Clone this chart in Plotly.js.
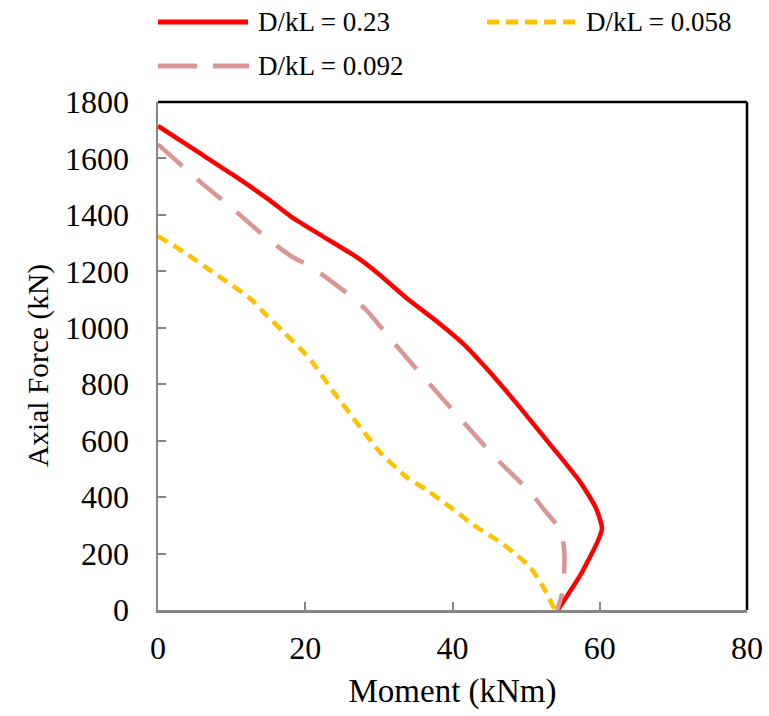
<!DOCTYPE html>
<html>
<head>
<meta charset="utf-8">
<script src="https://cdn.plot.ly/plotly-3.0.1.min.js"></script>
<style>html,body{margin:0;padding:0;background:#fff;}#chart{width:769px;height:716px;}</style>
</head>
<body>
<div id="chart"></div>
<script>
// Series: D/kL = 0.23
const momentA = [0, 5, 10, 15, 18, 22, 27, 30, 34, 38, 41.4, 45, 48.7, 53, 57.3, 59.5, 60.3, 59.8, 57.5, 54.3];
const forceA  = [1715, 1630, 1545, 1455, 1395, 1330, 1250, 1190, 1100, 1020, 945, 845, 732, 595, 455, 360, 290, 248, 130, 0];
// Series: D/kL = 0.092
const momentB = [0, 5.7, 9.3, 14.7, 18, 20.9, 23, 26.5, 28.5, 31.5, 36.2, 40.9, 45.7, 50.8, 52.3, 54.2, 54.9, 55.2, 55.1, 54.8, 54.2];
const forceB  = [1650, 1518, 1441, 1319, 1255, 1214, 1175, 1105, 1057, 963, 821, 683, 543, 411, 360, 300, 260, 200, 100, 50, 0];
// Series: D/kL = 0.058
const momentC = [0, 3.4, 8, 12.5, 14.7, 17, 19.5, 20.9, 23.8, 26.9, 30.1, 33.7, 36.5, 39.6, 43.2, 46.4, 48.4, 50.5, 52.3, 53.9];
const forceC  = [1325, 1270, 1187, 1104, 1045, 986, 921, 880, 774, 667, 561, 472, 425, 366, 295, 242, 201, 153, 83, 0];
const seriesNames = ["D/kL = 0.23", "D/kL = 0.058", "D/kL = 0.092"];
const xTicks = [0, 20, 40, 60, 80];
const yTicks = [0, 200, 400, 600, 800, 1000, 1200, 1400, 1600, 1800];
const xTitle = "Moment (kNm)";
const yTitle = "Axial Force (kN)";

const colA = "#FF0000", colB = "#D99694", colC = "#FFC000";
const FONT = "'Liberation Serif', 'Times New Roman', serif";

const traces = [
  {x: momentA, y: forceA, mode: "lines", name: seriesNames[0],
   line: {color: colA, width: 4.5, shape: "spline", smoothing: 0.6}},
  {x: momentC, y: forceC, mode: "lines", name: seriesNames[1],
   line: {color: colC, width: 4.5, dash: "11px,7px", shape: "spline", smoothing: 0.6}},
  {x: momentB, y: forceB, mode: "lines", name: seriesNames[2],
   line: {color: colB, width: 4.5, dash: "32px,20px", shape: "spline", smoothing: 0.6}}
];

const L = 158, T = 102, W = 589, H = 508;
function px(x){ return (x - L) / W; }
function py(y){ return (T + H - y) / H; }

const shapes = [
  {type: "line", xref: "paper", yref: "paper", x0: 0, x1: 1, y0: 1, y1: 1, line: {color: "#000", width: 2.5}},
  {type: "line", xref: "paper", yref: "paper", x0: 1, x1: 1, y0: 0, y1: 1, line: {color: "#000", width: 2.5}},
  {type: "line", xref: "paper", yref: "paper", x0: px(158), x1: px(248), y0: py(22), y1: py(22), line: {color: colA, width: 5}},
  {type: "line", xref: "paper", yref: "paper", x0: px(487), x1: px(577), y0: py(22), y1: py(22), line: {color: colC, width: 5, dash: "12px,7px"}},
  {type: "line", xref: "paper", yref: "paper", x0: px(158), x1: px(249), y0: py(66), y1: py(66), line: {color: colB, width: 5, dash: "39px,16px"}}
];

const annotations = [
  {text: seriesNames[0], xref: "paper", yref: "paper", x: px(256), y: py(22), xanchor: "left", yanchor: "middle", showarrow: false, font: {family: FONT, size: 27, color: "#000"}},
  {text: seriesNames[1], xref: "paper", yref: "paper", x: px(584), y: py(22), xanchor: "left", yanchor: "middle", showarrow: false, font: {family: FONT, size: 27, color: "#000"}},
  {text: seriesNames[2], xref: "paper", yref: "paper", x: px(256), y: py(66), xanchor: "left", yanchor: "middle", showarrow: false, font: {family: FONT, size: 27, color: "#000"}},
  {text: yTitle, xref: "paper", yref: "paper", x: px(38), y: py(366), xanchor: "center", yanchor: "middle", textangle: -90, showarrow: false, font: {family: FONT, size: 29.5, color: "#000"}}
];

const layout = {
  width: 769, height: 716,
  margin: {l: 158, r: 22, t: 102, b: 106, pad: 0},
  paper_bgcolor: "#fff", plot_bgcolor: "#fff",
  showlegend: false,
  font: {family: FONT, color: "#000", size: 30},
  xaxis: {
    range: [0, 80], tickvals: xTicks, ticktext: xTicks.map(String),
    showgrid: false, zeroline: false, showline: true, linecolor: "#868686", linewidth: 2.5,
    ticks: "inside", ticklen: 8, tickwidth: 2, tickcolor: "#868686",
    tickfont: {family: FONT, size: 32, color: "#000"},
    ticklabelstandoff: 8,
    title: {text: xTitle, font: {family: FONT, size: 33, color: "#000"}, standoff: 14}
  },
  yaxis: {
    range: [0, 1800], tickvals: yTicks, ticktext: yTicks.map(String),
    showgrid: false, zeroline: false, showline: true, linecolor: "#868686", linewidth: 2.5,
    ticks: "inside", ticklen: 8, tickwidth: 2, tickcolor: "#868686",
    tickfont: {family: FONT, size: 32, color: "#000"},
    ticklabelstandoff: 20
  },
  shapes: shapes,
  annotations: annotations
};

Plotly.newPlot("chart", traces, layout, {displayModeBar: false, staticPlot: true});
</script>
</body>
</html>
